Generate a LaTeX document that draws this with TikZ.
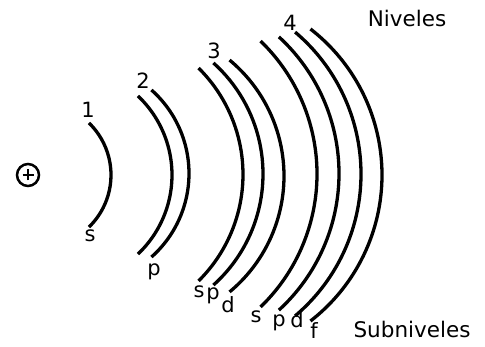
\documentclass[tikz,border=0pt]{standalone}
\usepackage{fontspec}
\setmainfont{DejaVu Sans}
\begin{document}
\begin{tikzpicture}[x=1pt,y=-1pt,
  shell/.style={line width=3.3pt},
  lbl/.style={inner sep=0pt,font=\fontsize{21}{21}\selectfont},
  ttl/.style={inner sep=0pt,font=\fontsize{21.5}{21.5}\selectfont}]
\useasboundingbox (0,0) rectangle (485,347);
% nucleus
\node[draw,circle,line width=2.5pt,minimum size=22pt,inner sep=0pt] (nuc) at (28,175) {};
\draw[line width=2.4pt] ([xshift=-5.5pt]nuc.center) -- ([xshift=5.5pt]nuc.center);
\draw[line width=2.4pt] ([yshift=-5.5pt]nuc.center) -- ([yshift=5.5pt]nuc.center);
% arcs: center (cx,cy), half angle a, radius R
\newcommand{\shellarc}[4]{\draw[shell] (#1,#2) ++(#3:#4) arc[start angle=#3, end angle=-#3, radius=#4];}
\shellarc{38.5}{175}{45.9}{72.5}
\shellarc{63.2}{175}{46.6}{108.8}
\shellarc{77.3}{173.5}{48.4}{111.7}
\shellarc{93.3}{174.5}{45.3}{149.7}
\shellarc{113.8}{174}{48.1}{149.2}
\shellarc{133.3}{176}{50.3}{150.7}
\shellarc{132.2}{174}{46.0}{184.8}
\shellarc{153.7}{173.5}{47.5}{185.3}
\shellarc{175.2}{174}{49.8}{185.8}
\shellarc{197.2}{175}{52.2}{184.8}
% labels
\node[lbl] (n1) at (88,110) {1};
\node[lbl] (s1) at (90,236) {s};
\node[lbl] (n2) at (143,81) {2};
\node[lbl,anchor=base] (p2) at (154,276) {p};
\node[lbl] (n3) at (214,51) {3};
\node[lbl,anchor=base] (s3) at (199,298) {s};
\node[lbl,anchor=base] (p3) at (213,300) {p};
\node[lbl,anchor=base] (d3) at (228,313) {d};
\node[lbl] (n4) at (290,23) {4};
\node[lbl,anchor=base] (s4) at (256,323) {s};
\node[lbl,anchor=base] (p4) at (279,327) {p};
\node[lbl,anchor=base] (d4) at (297,328) {d};
\node[lbl,anchor=base] (f4) at (314,339) {f};
\node[ttl,anchor=base] (niv) at (407,27) {Niveles};
\node[ttl,anchor=base] (sub) at (412,338) {Subniveles};
\end{tikzpicture}
\end{document}
